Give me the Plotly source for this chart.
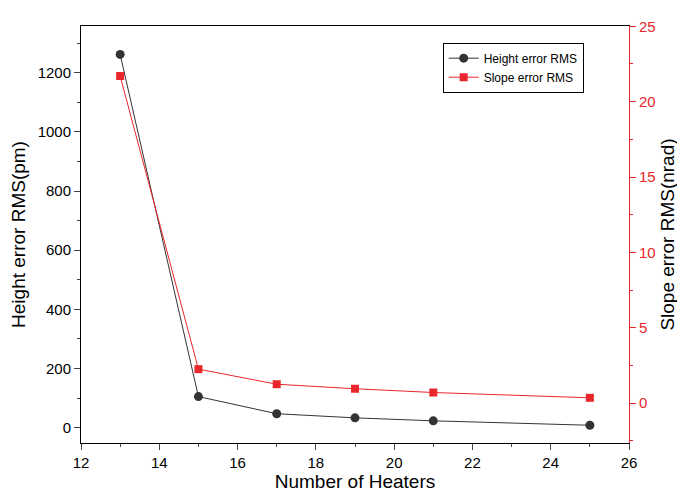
import plotly.graph_objects as go

heaters = [13, 15, 17, 19, 21, 25]
height_rms = [1262, 105, 47, 33, 23, 8]
slope_rms = [21.7, 2.25, 1.25, 0.95, 0.7, 0.35]

fig = go.Figure()
fig.add_trace(go.Scatter(
    x=heaters, y=height_rms, name='Height error RMS', mode='lines+markers',
    line=dict(color='#333333', width=1),
    marker=dict(symbol='circle', size=9, color='#333333'),
))
fig.add_trace(go.Scatter(
    x=heaters, y=slope_rms, name='Slope error RMS', mode='lines+markers',
    yaxis='y2',
    line=dict(color='#e8262b', width=1),
    marker=dict(symbol='square', size=8, color='#e8262b'),
))

fig.update_layout(
    width=685, height=493,
    margin=dict(l=72, r=64, t=10, b=58),
    paper_bgcolor='white', plot_bgcolor='white',
    font=dict(family='Arial, Liberation Sans', size=15, color='black'),
    showlegend=True,
    legend=dict(x=0.66, y=0.96, xanchor='left', yanchor='top',
                bordercolor='black', borderwidth=1, font=dict(size=12)),
    xaxis=dict(
        range=[12, 26], dtick=2, showgrid=False, zeroline=False,
        showline=True, linecolor='black', linewidth=1, mirror=True,
        ticks='outside', ticklen=6,
        minor=dict(ticks='outside', ticklen=3, dtick=1),
        title=dict(text='Number of Heaters', font=dict(size=19), standoff=2),
    ),
    yaxis=dict(
        range=[-52, 1358], dtick=200, showgrid=False, zeroline=False,
        showline=True, linecolor='black', linewidth=1,
        ticks='outside', ticklen=6,
        minor=dict(ticks='outside', ticklen=3, dtick=100),
        title=dict(text='Height error RMS(pm)', font=dict(size=19), standoff=6),
    ),
    yaxis2=dict(
        overlaying='y', side='right',
        range=[-2.65, 25.02], dtick=5, showgrid=False, zeroline=False,
        showline=True, linecolor='#e8262b', linewidth=1,
        ticks='outside', ticklen=6, tickcolor='#e8262b',
        tickfont=dict(color='#e8262b'),
        minor=dict(ticks='outside', ticklen=3, dtick=2.5, tickcolor='#e8262b'),
        title=dict(text='Slope error RMS(nrad)', font=dict(size=19, color='black'), standoff=6),
    ),
)

fig.write_html('out.html')
